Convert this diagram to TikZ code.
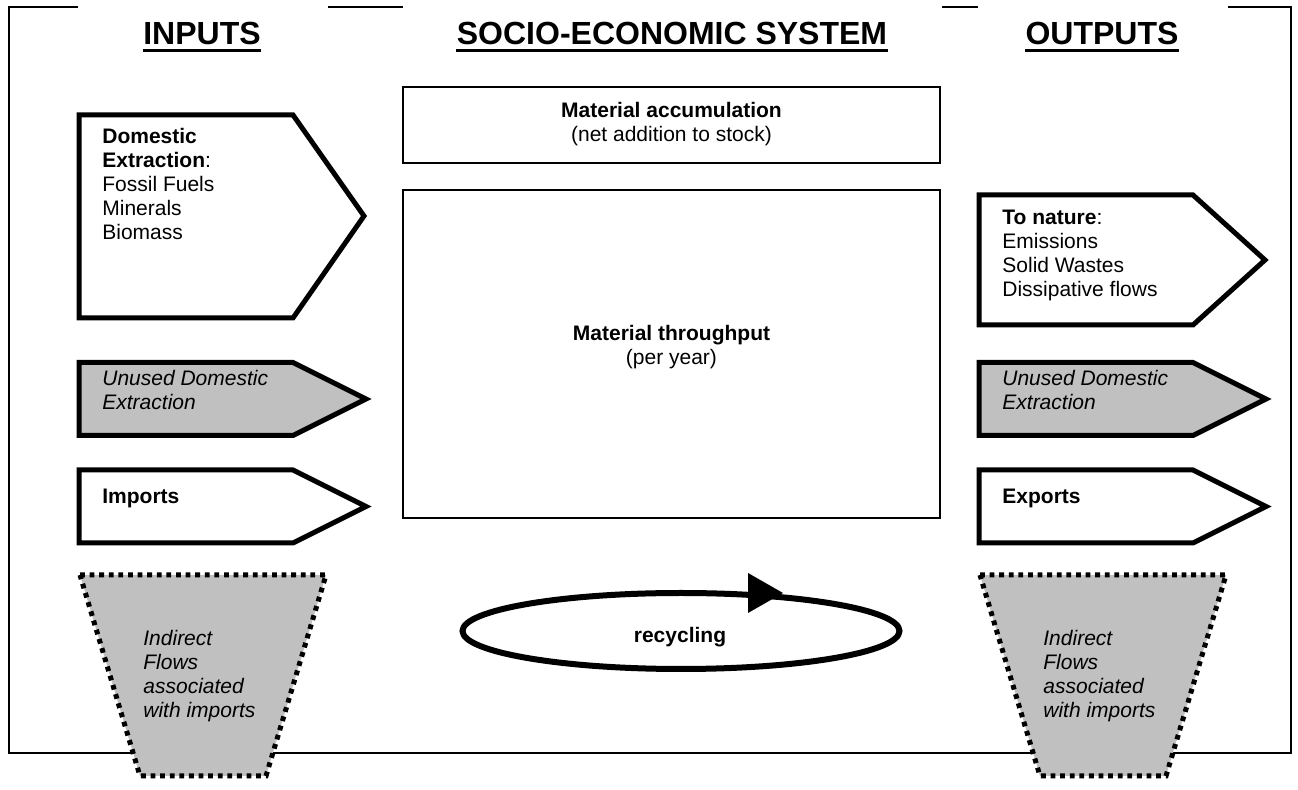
\documentclass[tikz,border=0pt]{standalone}
\usepackage{fontspec}
\setmainfont{Liberation Sans}
\usepackage{tikz}
\definecolor{flowgrey}{HTML}{C0C0C0}

\begin{document}
\begin{tikzpicture}[x=0.5pt, y=-0.5pt,
  flow/.style={line width=2.5pt, line join=miter},
  hidden/.style={line width=2.5pt, dash pattern=on 2.4pt off 2.4pt, fill=flowgrey},
  frame/.style={line width=1pt},
  title/.style={font=\bfseries\fontsize{16}{19}\selectfont, inner sep=0pt, anchor=base},
  txt/.style={font=\fontsize{10.5}{12}\selectfont, inner sep=0pt, anchor=north west, align=left},
  ctxt/.style={font=\fontsize{10.5}{12}\selectfont, inner sep=0pt, align=center}]
\useasboundingbox (0,0) rectangle (1298,790);

% frame
\draw[frame] (78,7) -- (9,7) -- (9,753) -- (1291,753) -- (1291,7) -- (1228,7);
\draw[frame] (328,7) -- (403,7);
\draw[frame] (942,7) -- (978,7);

% column titles
\node[title] (inputs) at (202,45) {INPUTS};
\node[title] (socio) at (672,45) {SOCIO-ECONOMIC SYSTEM};
\node[title] (outputs) at (1102,45) {OUTPUTS};
\foreach \t in {inputs,socio,outputs}
  \draw[line width=1.5pt] ([yshift=-3pt]\t.base west) -- ([yshift=-3pt]\t.base east);

% domestic extraction / to nature
\draw[flow, fill=white] (79,115) -- (293,115) -- (364,216) -- (293,318) -- (79,318) -- cycle;
\node[txt] (domestic) at (102,128) {\textbf{Domestic}\\\textbf{Extraction}:\\Fossil Fuels\\Minerals\\Biomass};
\draw[flow, fill=white] (979,195) -- (1193,195) -- (1265,260) -- (1193,325) -- (979,325) -- cycle;
\node[txt] (tonature) at (1002,210) {\textbf{To nature}:\\Emissions\\Solid Wastes\\Dissipative flows};

% unused, imports/exports, indirect flows
\foreach \dx/\side/\lab in {0/in/Imports,900/out/Exports} {
  \draw[flow, fill=flowgrey] (79+\dx,362.5) -- (293+\dx,362.5) -- (366+\dx,399) -- (293+\dx,435.5) -- (79+\dx,435.5) -- cycle;
  \node[txt] (unused\side) at (102+\dx,370) {\itshape Unused Domestic\\\itshape Extraction};
  \draw[flow, fill=white] (79+\dx,470) -- (293+\dx,470) -- (366+\dx,506.5) -- (293+\dx,543) -- (79+\dx,543) -- cycle;
  \node[txt, font=\bfseries\fontsize{10.5}{12}\selectfont] (\side port) at (102+\dx,489) {\lab};
  \draw[hidden] (80+\dx,575) -- (326+\dx,575) -- (266+\dx,776) -- (140+\dx,776) -- cycle;
  \node[txt] (indirect\side) at (143+\dx,630) {\itshape Indirect\\\itshape Flows\\\itshape associated\\\itshape with imports};
}

% system boxes
\draw[frame] (403,87) rectangle (940,163);
\node[ctxt] (accum) at (671.5,124) {\textbf{Material accumulation}\\(net addition to stock)};
\draw[frame] (403,190) rectangle (940,518);
\node[ctxt] (through) at (671.5,347) {\textbf{Material throughput}\\(per year)};

% recycling loop
\draw[line width=3pt] (681,631) ellipse [x radius=218.5, y radius=38];
\fill (748,573) -- (783,593) -- (748,613) -- cycle;
\node[ctxt, font=\bfseries\fontsize{10.5}{12}\selectfont] (recyc) at (680,637) {recycling};
\end{tikzpicture}
\end{document}
